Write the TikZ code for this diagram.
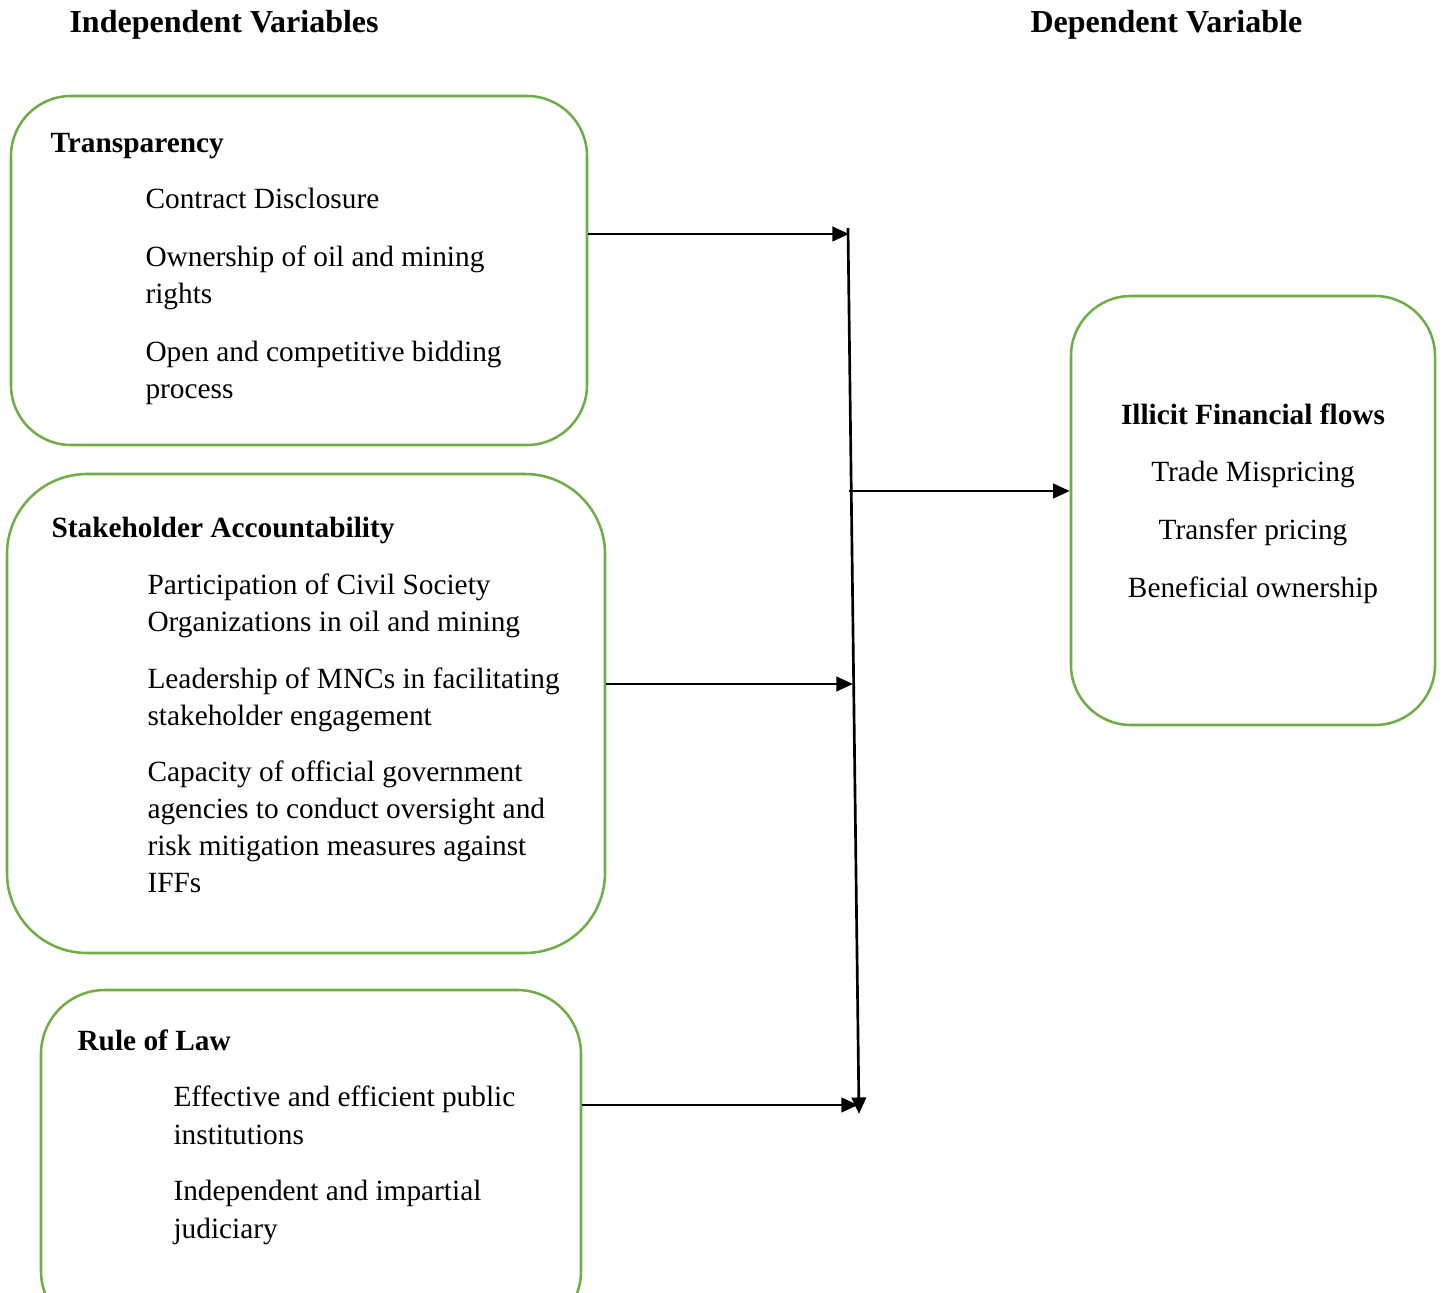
\documentclass[tikz,border=0pt]{standalone}
\usepackage{fontspec}
\setmainfont{Liberation Serif}
\usetikzlibrary{arrows.meta,fit}
\definecolor{boxgreen}{RGB}{112,173,71}

\begin{document}
\begin{tikzpicture}[x=0.375pt,y=-0.375pt,
  every node/.style={font=\fontsize{11}{13.9}\selectfont},
  box/.style={draw=boxgreen,line width=0.95pt,inner sep=0pt},
  head/.style={anchor=base west,font=\fontsize{11}{13.9}\selectfont\bfseries,inner sep=0pt},
  item/.style={anchor=base west,align=left,inner sep=0pt},
  link/.style={line width=1pt,-{Triangle[length=6.2pt,width=5.4pt]}}]
  %%%%% START %%%%%
  \useasboundingbox (0,0) rectangle (1442,1293);

  \node[head,font=\fontsize{12}{14}\selectfont\bfseries] (indep) at (69,33) {Independent Variables};
  \node[head,font=\fontsize{12}{14}\selectfont\bfseries] (dep) at (1030,33) {Dependent Variable};

  % transparency
  \node[box,rounded corners=22.5pt,fit={(11,96) (587,445)}] (trans) {};
  \node[head] (transT) at (50,153) {Transparency};
  \node[item] (trans1) at (145,209) {Contract Disclosure};
  \node[item] (trans2) at (145,304) {Ownership of oil and mining\\rights};
  \node[item] (trans3) at (145,399) {Open and competitive bidding\\process};

  % stakeholder accountability
  \node[box,rounded corners=30pt,fit={(7,474) (605,953)}] (stake) {};
  \node[head] (stakeT) at (51,538) {Stakeholder Accountability};
  \node[item] (stake1) at (147,632) {Participation of Civil Society\\Organizations in oil and mining};
  \node[item] (stake2) at (147,726) {Leadership of MNCs in facilitating\\stakeholder engagement};
  \node[item] (stake3) at (147,893) {Capacity of official government\\agencies to conduct oversight and\\risk mitigation measures against\\IFFs};

  % rule of law
  \node[box,rounded corners=24pt,fit={(41,990) (581,1335)}] (law) {};
  \node[head] (lawT) at (77,1050) {Rule of Law};
  \node[item] (law1) at (173,1144) {Effective and efficient public\\institutions};
  \node[item] (law2) at (173,1238) {Independent and impartial\\judiciary};

  % illicit financial flows
  \node[box,rounded corners=22.5pt,fit={(1071,296) (1435,725)}] (iff) {};
  \node[head,anchor=base] (iffT) at (1253,425) {Illicit Financial flows};
  \node[anchor=base,inner sep=0pt] (iff1) at (1253,482) {Trade Mispricing};
  \node[anchor=base,inner sep=0pt] (iff2) at (1253,540) {Transfer pricing};
  \node[anchor=base,inner sep=0pt] (iff3) at (1253,598) {Beneficial ownership};

  % connectors
  \coordinate (vtop) at (848,228);
  \coordinate (vbot) at (859,1114);
  \coordinate (t1) at (849,234);
  \coordinate (t2) at (853,684);
  \coordinate (t3) at (858,1105);
  \coordinate (t4) at (849,491);
  \draw[link] (vtop) -- (vbot);
  \draw[link] (trans.east |- t1) -- (t1);
  \draw[link] (stake.east |- t2) -- (t2);
  \draw[link] (law.east |- t3) -- (t3);
  \draw[link] (t4) -- (iff.west |- t4);
  %%%%% END %%%%%
\end{tikzpicture}
\end{document}
